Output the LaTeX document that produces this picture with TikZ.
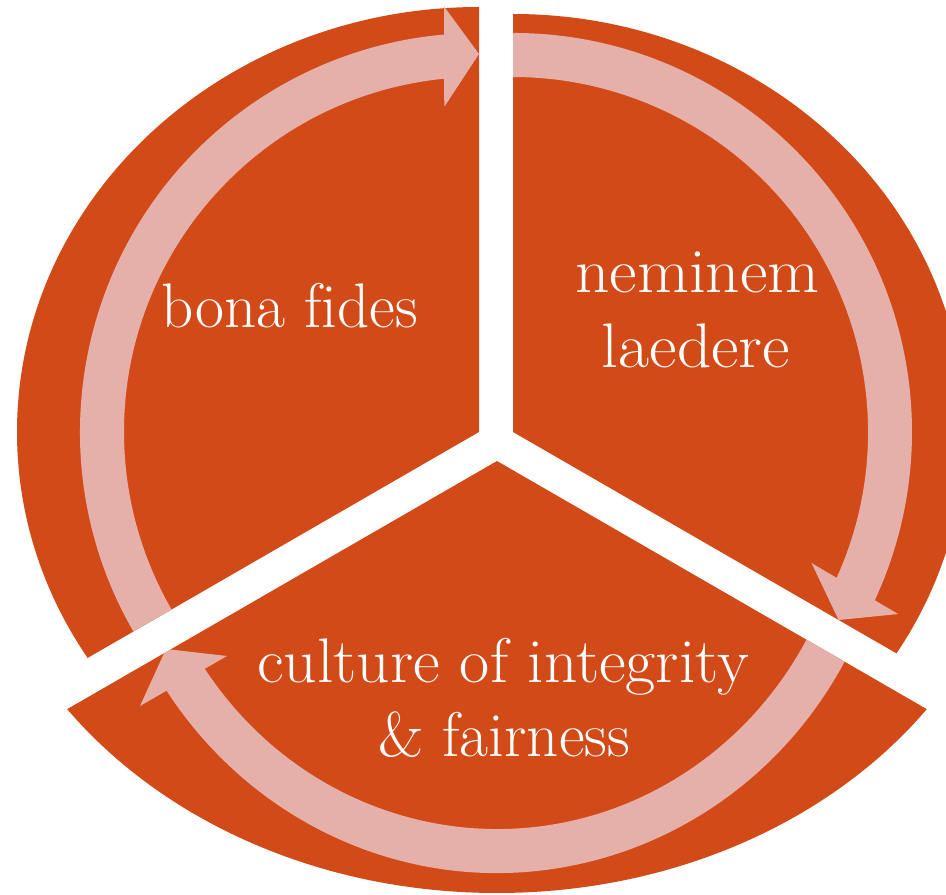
\documentclass[tikz,border=0pt]{standalone}
\usepackage{fontspec}
\usetikzlibrary{calc}
\definecolor{segorange}{RGB}{210,74,23}
\definecolor{arrowpink}{RGB}{229,176,170}
\begin{document}
\begin{tikzpicture}[x=1pt,y=1pt,
  seg/.style={fill=segorange},
  band/.style={fill=arrowpink},
  lbl/.style={text=white,font=\fontsize{63}{75}\selectfont,anchor=base,inner sep=0pt}]
\fill[white] (0,0) rectangle (946,895);
\useasboundingbox (0,0) rectangle (946,895);
\coordinate (L) at (479,463);
\coordinate (R) at (513,463);
\coordinate (B) at (497,434);

% left segment
\begin{scope}
\clip (L) -- ($(L)+(90:1200pt)$) -- ($(L)+(150:1200pt)$) -- ($(L)+(210:1200pt)$) -- cycle;
\fill[seg] (L) ellipse [x radius=462pt, y radius=425pt];
\fill[band] ($(L)+(215:399pt)$) arc[start angle=215,end angle=94.8,radius=399pt]
  -- ($(L)+(94.8:355pt)$) arc[start angle=94.8,end angle=215,radius=355pt] -- cycle;
\fill[band] ($(L)+(94.7:427pt)$) -- ($(L)+(90:378pt)$) -- ($(L)+(96.1:327pt)$) -- cycle;
\end{scope}

% right segment
\begin{scope}
\clip (R) -- ($(R)+(-30:1200pt)$) -- ($(R)+(30:1200pt)$) -- ($(R)+(90:1200pt)$) -- cycle;
\fill[seg] (R) ellipse [x radius=452pt, y radius=418pt];
\fill[band] ($(R)+(95:399pt)$) arc[start angle=95,end angle=-25.2,radius=399pt]
  -- ($(R)+(-25.2:355pt)$) arc[start angle=-25.2,end angle=95,radius=355pt] -- cycle;
\fill[band] ($(R)+(-25.3:426pt)$) -- ($(R)+(-30:376pt)$) -- ($(R)+(-23.7:326pt)$) -- cycle;
\end{scope}

% bottom segment
\begin{scope}
\clip (B) -- ($(B)+(210:1200pt)$) -- ($(B)+(270:1200pt)$) -- ($(B)+(330:1200pt)$) -- cycle;
\fill[seg] (B) ellipse [x radius=525pt, y radius=432pt];
\fill[band] ($(B)+(335:398pt and 412pt)$) arc[start angle=335,end angle=213,x radius=398pt,y radius=412pt]
  -- ($(B)+(213:354pt and 368pt)$) arc[start angle=213,end angle=335,x radius=354pt,y radius=368pt] -- cycle;
\fill[band] (140,189) -- (166,246) -- (227,239) -- cycle;
\end{scope}

% labels
\node[lbl] (bona) at (289.5,567) {bona f\kern0pt ides};
\node[lbl,xscale=1.07] (nem1) at (697.5,602) {neminem};
\node[lbl,xscale=1.07] (nem2) at (696,527) {laedere};
\node[lbl,xscale=1.04] (cul1) at (503,212) {culture of integrity};
\node[lbl] (cul2) at (504,138) {\& fairness};
\end{tikzpicture}
\end{document}
